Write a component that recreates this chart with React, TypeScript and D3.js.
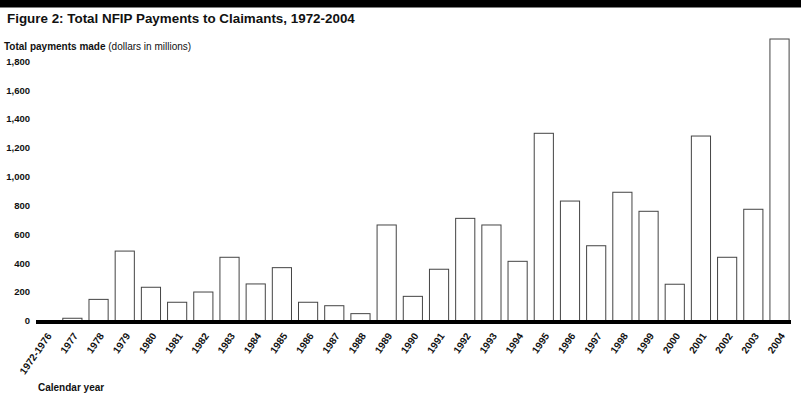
import React from "react";
import * as d3 from "d3";

const categories = [
  "1972-1976", "1977", "1978", "1979", "1980", "1981", "1982", "1983", "1984", "1985",
  "1986", "1987", "1988", "1989", "1990", "1991", "1992", "1993", "1994", "1995",
  "1996", "1997", "1998", "1999", "2000", "2001", "2002", "2003", "2004",
];
const payments = [
  0, 19, 150, 485, 234, 130, 201, 442, 257, 370,
  130, 106, 51, 666, 171, 359, 712, 666, 414, 1302,
  832, 522, 893, 761, 255, 1283, 442, 775, 1956,
];
const yTicks = [0, 200, 400, 600, 800, 1000, 1200, 1400, 1600, 1800];

const W = 801;
const H = 396;
const FONT = "'Liberation Sans', Arial, Helvetica, sans-serif";

export default function App() {
  const x = d3.scaleBand<string>().domain(categories).range([36.1, 789.6]).paddingInner(0.23).paddingOuter(0);
  const y = d3.scaleLinear().domain([0, 1800]).range([321, 61.5]);
  const fmt = d3.format(",");
  return (
    <svg width={W} height={H} style={{ position: "absolute", left: 0, top: 0, background: "#fff" }} fontFamily={FONT}>
      <rect x={0} y={0} width={W} height={7.5} fill="#000" />
      <text x={7} y={22.5} fontSize={13.4} fontWeight="bold" fill="#111">
        Figure 2: Total NFIP Payments to Claimants, 1972-2004
      </text>
      <text x={4} y={50} fontSize={10} fill="#111">
        <tspan fontWeight="bold">Total payments made</tspan>
        <tspan> (dollars in millions)</tspan>
      </text>
      {yTicks.map((t) => (
        <text key={t} x={30} y={y(t)} dy="0.35em" textAnchor="end" fontSize={9.5} fontWeight="bold" fill="#111">
          {fmt(t)}
        </text>
      ))}
      {categories.map((c, i) => (
        <rect
          key={c}
          x={x(c)! + 0.5}
          y={y(payments[i])}
          width={x.bandwidth() - 1}
          height={Math.max(0, 321 - y(payments[i]))}
          fill="#fff"
          stroke="#444"
          strokeWidth={1}
        />
      ))}
      <rect x={36} y={320} width={755} height={4} fill="#000" />
      {categories.map((c) => {
        const cx = x(c)! + x.bandwidth() / 2 + 6;
        return (
          <text
            key={c}
            transform={`translate(${cx},336) rotate(-55)`}
            textAnchor="end"
            fontSize={10}
            fontWeight="bold"
            fill="#111"
          >
            {c}
          </text>
        );
      })}
      <text x={38} y={391} fontSize={10} fontWeight="bold" fill="#111">
        Calendar year
      </text>
    </svg>
  );
}
